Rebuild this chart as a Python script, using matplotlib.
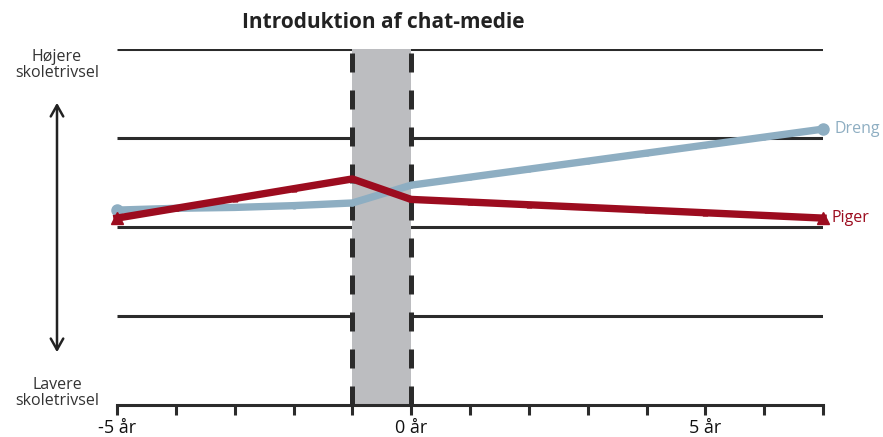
import numpy as np
import matplotlib
matplotlib.use('agg')
import matplotlib.pyplot as plt

plt.rcParams['font.family'] = ['Open Sans', 'DejaVu Sans']

# years relative to introduction of chat medium
years = [-5, -4, -3, -2, -1, 0, 1, 2, 3, 4, 5, 6, 7]
dreng = [2.19, 2.21, 2.22, 2.24, 2.27, 2.47, 2.56, 2.65, 2.74, 2.83, 2.92, 3.01, 3.10]
piger = [2.10, 2.21, 2.32, 2.43, 2.54, 2.31, 2.28, 2.25, 2.22, 2.19, 2.16, 2.13, 2.10]
tick_labels = {-5: '-5 år', 0: '0 år', 5: '5 år'}
grid_levels = [1, 2, 3, 4]

blue = '#8eaec2'
red = '#9c0c1f'
dark = '#2b2b2b'

fig = plt.figure(figsize=(8.83, 4.37), dpi=100)
ax = fig.add_axes([117 / 883, 32 / 437, 706 / 883, 356 / 437])
ax.set_xlim(-5, 7)
ax.set_ylim(0, 4)

ax.hlines(grid_levels, -5, 7, color=dark, lw=2.2, zorder=1)
ax.axvspan(-1, 0, color='#bcbdc0', zorder=2, lw=0)
for xv in (-1, 0):
    ax.axvline(xv, color=dark, lw=3.6, linestyle=(0, (3.8, 3.6)), zorder=3)

ax.plot(years, dreng, color=blue, lw=5.3, marker='o', ms=3.5, solid_capstyle='round', zorder=4, clip_on=False)
ax.plot(years, piger, color=red, lw=5.3, marker='^', ms=3.5, zorder=5, clip_on=False)
ax.plot([years[0], years[-1]], [dreng[0], dreng[-1]], 'o', color=blue, ms=8, zorder=4, clip_on=False)
ax.plot([years[0], years[-1]], [piger[0], piger[-1]], '^', color=red, ms=9, zorder=5, clip_on=False)

ax.text(7.2, dreng[-1], 'Dreng', color=blue, fontsize=11.5, va='center', ha='left')
ax.text(7.15, piger[-1], 'Piger', color=red, fontsize=11.5, va='center', ha='left')

for s in ['top', 'right', 'left']:
    ax.spines[s].set_visible(False)
ax.spines['bottom'].set_color(dark)
ax.spines['bottom'].set_linewidth(2.2)
ax.spines['bottom'].set_zorder(6)
ax.set_yticks([])
ax.set_xticks(years)
ax.set_xticklabels([tick_labels.get(y, '') for y in years], fontsize=13, color='#111111')
ax.tick_params(axis='x', direction='out', length=7, width=2.2, color=dark, pad=3)

fig.text(383 / 883, 1 - 23 / 437, 'Introduktion af chat-medie', fontsize=15,
         fontweight='bold', ha='center', va='center', color='#222222')
fig.text(57 / 883, 1 - 65 / 437, 'Højere\nskoletrivsel', fontsize=11.5, ha='center',
         va='center', color='#333333', linespacing=1.0)
fig.text(57 / 883, 1 - 393 / 437, 'Lavere\nskoletrivsel', fontsize=11.5, ha='center',
         va='center', color='#333333', linespacing=1.0)
ax.annotate('', xy=(57 / 883, 1 - 100 / 437), xytext=(57 / 883, 1 - 355 / 437),
            xycoords='figure fraction', textcoords='figure fraction',
            arrowprops=dict(arrowstyle='<->,head_length=0.8,head_width=0.45', color='#222222', lw=1.8))

fig.savefig('out.png', dpi=100)
